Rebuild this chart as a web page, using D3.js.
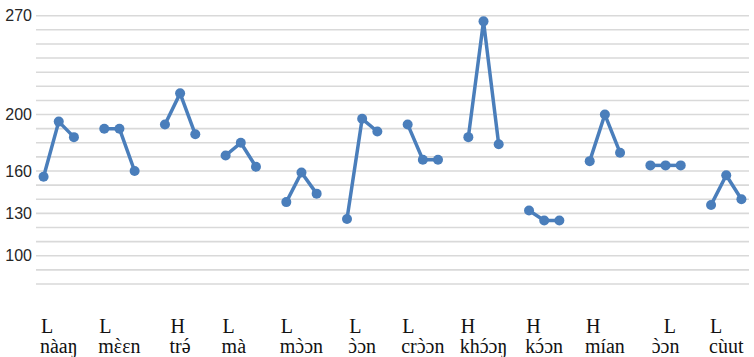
<!DOCTYPE html>
<html><head><meta charset="utf-8">
<script src="https://cdn.jsdelivr.net/npm/d3@7"></script>
<style>body{margin:0;background:#fff}svg{display:block}
.lab text{font-family:'Liberation Serif','Times New Roman','DejaVu Serif',serif;font-size:20px;fill:#111}
.yax text{font-family:'Liberation Sans',Arial,sans-serif;font-size:16px;fill:#262626}
</style>
</head><body>
<svg id="c" width="754" height="357"></svg>
<script>
const tones = ["L","L","H","L","L","L","L","H","H","H","L","L"];
const words = ["nàaŋ","mɛ̀ɛn","trə́","mà","mɔ̀ɔn","ɔ̀ɔn","crɔ̀ɔn","khɔ́ɔŋ","kɔ́ɔn","mían","ɔ̀ɔn","cùut"];
const pitch1 = [156,190,193,171,138,126,193,184,132,167,164,136];
const pitch2 = [195,190,215,180,159,197,168,266,125,200,164,157];
const pitch3 = [184,160,186,163,144,188,168,179,125,173,164,140];
const yTicks = [270,200,160,130,100];
const yDomain = [80,270];

(function(){
const svg = d3.select("#c");
const mL = 36, mR = 749, mT = 15.7, mB = 284;
const nSlots = words.length*4 - 1;
const x = d3.scaleBand().domain(d3.range(nSlots)).range([mL,mR]).padding(0);
const cx = k => x(k) + x.bandwidth()/2;
const y = d3.scaleLinear().domain(yDomain).range([mB, mT]);

svg.append("g").selectAll("line").data(y.ticks(20)).join("line")
  .attr("x1",mL).attr("x2",mR)
  .attr("y1",d=>y(d)).attr("y2",d=>y(d))
  .attr("stroke","#d9d9d9").attr("stroke-width",1.6);

const ya = svg.append("g").attr("transform",`translate(${mL-2},0)`)
  .call(d3.axisLeft(y).tickValues(yTicks).tickSize(0).tickPadding(2));
ya.attr("class","yax").attr("font-family",null).attr("font-size",null);
ya.select(".domain").remove();

const groups = words.map((w,g)=>({g, pts:[pitch1[g],pitch2[g],pitch3[g]].map((v,j)=>({k:g*4+j,v}))}));
const line = d3.line().x(d=>cx(d.k)).y(d=>y(d.v));
const blue = "#4a7ebb";
svg.append("g").selectAll("path").data(groups).join("path")
  .attr("d",d=>line(d.pts)).attr("fill","none").attr("stroke",blue)
  .attr("stroke-width",3.5).attr("stroke-linejoin","round");
svg.append("g").selectAll("circle").data(groups.flatMap(d=>d.pts)).join("circle")
  .attr("cx",d=>cx(d.k)).attr("cy",d=>y(d.v)).attr("r",5).attr("fill",blue);

const nudge = {3:-7};
const toneShift = {10:11};
const markGlyph = {"\u0300":"`","\u0301":"\u00B4"};
const lab = svg.append("g").attr("class","lab");
words.forEach((w,g)=>{
  const s = w.normalize("NFC");
  let base = "", marks = [];
  for (const ch of s) {
    if (markGlyph[ch]) marks.push({i: base.length-1, m: markGlyph[ch]});
    else base += ch;
  }
  const t = lab.append("text").attr("text-anchor","middle");
  t.append("tspan").attr("x",cx(g*4+1)+(nudge[g]||0)).attr("y",352.5).text(base);
  const bb = t.node().getBBox();
  const pos = marks.map(mk=>{const e=t.node().getExtentOfChar(mk.i); return e.x+e.width/2;});
  marks.forEach((mk,j)=>{
    t.append("tspan").attr("x",pos[j]).attr("y",352.5).text(mk.m);
  });
  t.insert("tspan",":first-child").attr("text-anchor","start")
    .attr("x",bb.x+1+(toneShift[g]||0)).attr("y",333).text(tones[g]);
});
})();
</script>
</body></html>
